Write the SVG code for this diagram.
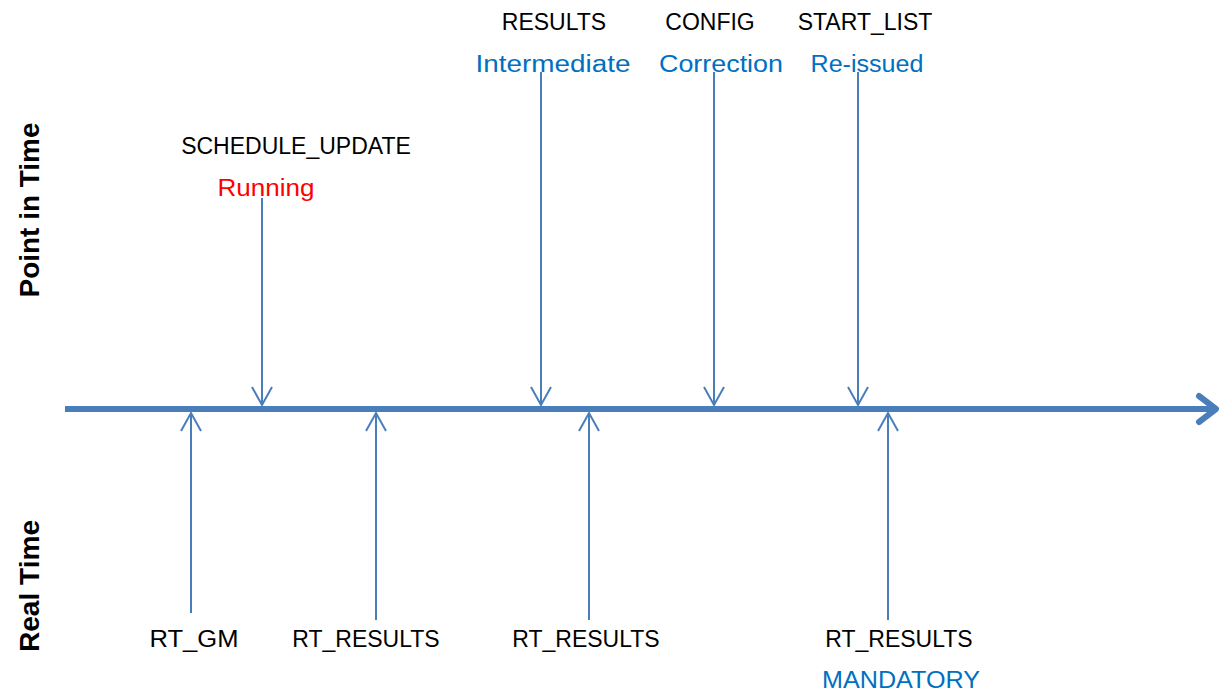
<svg xmlns="http://www.w3.org/2000/svg" width="1221" height="695" viewBox="0 0 1221 695">
<style>
.lbl{font-family:"Liberation Sans",Arial,sans-serif;font-size:23px;text-anchor:middle;fill:#000}
.blue{fill:#0070c0}
.red{fill:#ff0000}
.side{font-family:"Liberation Sans",Arial,sans-serif;font-size:27px;font-weight:bold;text-anchor:middle;fill:#000}
.conn{stroke:#4a7ebb;stroke-width:2;fill:none}
</style>
<defs>
<marker id="ah" markerUnits="userSpaceOnUse" orient="auto" refX="0" refY="0" markerWidth="40" markerHeight="40" viewBox="-20 -20 40 40" overflow="visible">
<path d="M-18,-10 L0,0 L-18,10" fill="none" stroke="#4a7ebb" stroke-width="2"/>
</marker>
<marker id="axh" markerUnits="userSpaceOnUse" orient="auto" refX="0" refY="0" markerWidth="40" markerHeight="40" viewBox="-20 -20 40 40" overflow="visible">
<path d="M-17,-13 L0,0 L-17,13" fill="none" stroke="#4a7ebb" stroke-width="6" stroke-linecap="round" stroke-linejoin="round"/>
</marker>
</defs>
<rect width="1221" height="695" fill="#fff"/>
<text class="side" transform="translate(39,210) rotate(-90)" textLength="175" lengthAdjust="spacingAndGlyphs">Point in Time</text>
<text class="side" transform="translate(39,586) rotate(-90)" textLength="132" lengthAdjust="spacingAndGlyphs">Real Time</text>
<g id="connectors">
<line id="axis" x1="65" y1="409" x2="1216" y2="409" stroke="#4a7ebb" stroke-width="6" marker-end="url(#axh)"/>
<line class="conn" x1="262" y1="198" x2="262" y2="405" marker-end="url(#ah)"/>
<line class="conn" x1="541" y1="72" x2="541" y2="405" marker-end="url(#ah)"/>
<line class="conn" x1="714" y1="72" x2="714" y2="405" marker-end="url(#ah)"/>
<line class="conn" x1="858" y1="72" x2="858" y2="405" marker-end="url(#ah)"/>
<line class="conn" x1="191" y1="613" x2="191" y2="413" marker-end="url(#ah)"/>
<line class="conn" x1="376" y1="620" x2="376" y2="413" marker-end="url(#ah)"/>
<line class="conn" x1="589" y1="620" x2="589" y2="413" marker-end="url(#ah)"/>
<line class="conn" x1="888" y1="620" x2="888" y2="413" marker-end="url(#ah)"/>
</g>
<g id="schedule_update">
<text class="lbl" x="296" y="154">SCHEDULE_UPDATE</text>
<text class="lbl red" x="266" y="196" textLength="97" lengthAdjust="spacingAndGlyphs">Running</text>
</g>
<g id="results">
<text class="lbl" x="554" y="30">RESULTS</text>
<text class="lbl blue" x="553" y="72" textLength="155" lengthAdjust="spacingAndGlyphs">Intermediate</text>
</g>
<g id="config">
<text class="lbl" x="710" y="30">CONFIG</text>
<text class="lbl blue" x="721" y="72" textLength="124" lengthAdjust="spacingAndGlyphs">Correction</text>
</g>
<g id="start_list">
<text class="lbl" x="865" y="30">START_LIST</text>
<text class="lbl blue" x="867" y="72" textLength="113" lengthAdjust="spacingAndGlyphs">Re-issued</text>
</g>
<g id="rt_gm">
<text class="lbl" x="194" y="647" textLength="89" lengthAdjust="spacingAndGlyphs">RT_GM</text>
</g>
<g id="rt_results_1">
<text class="lbl" x="366" y="647">RT_RESULTS</text>
</g>
<g id="rt_results_2">
<text class="lbl" x="586" y="647">RT_RESULTS</text>
</g>
<g id="rt_results_3">
<text class="lbl" x="899" y="647">RT_RESULTS</text>
<text class="lbl blue" x="901" y="688" textLength="158" lengthAdjust="spacingAndGlyphs">MANDATORY</text>
</g>
</svg>
